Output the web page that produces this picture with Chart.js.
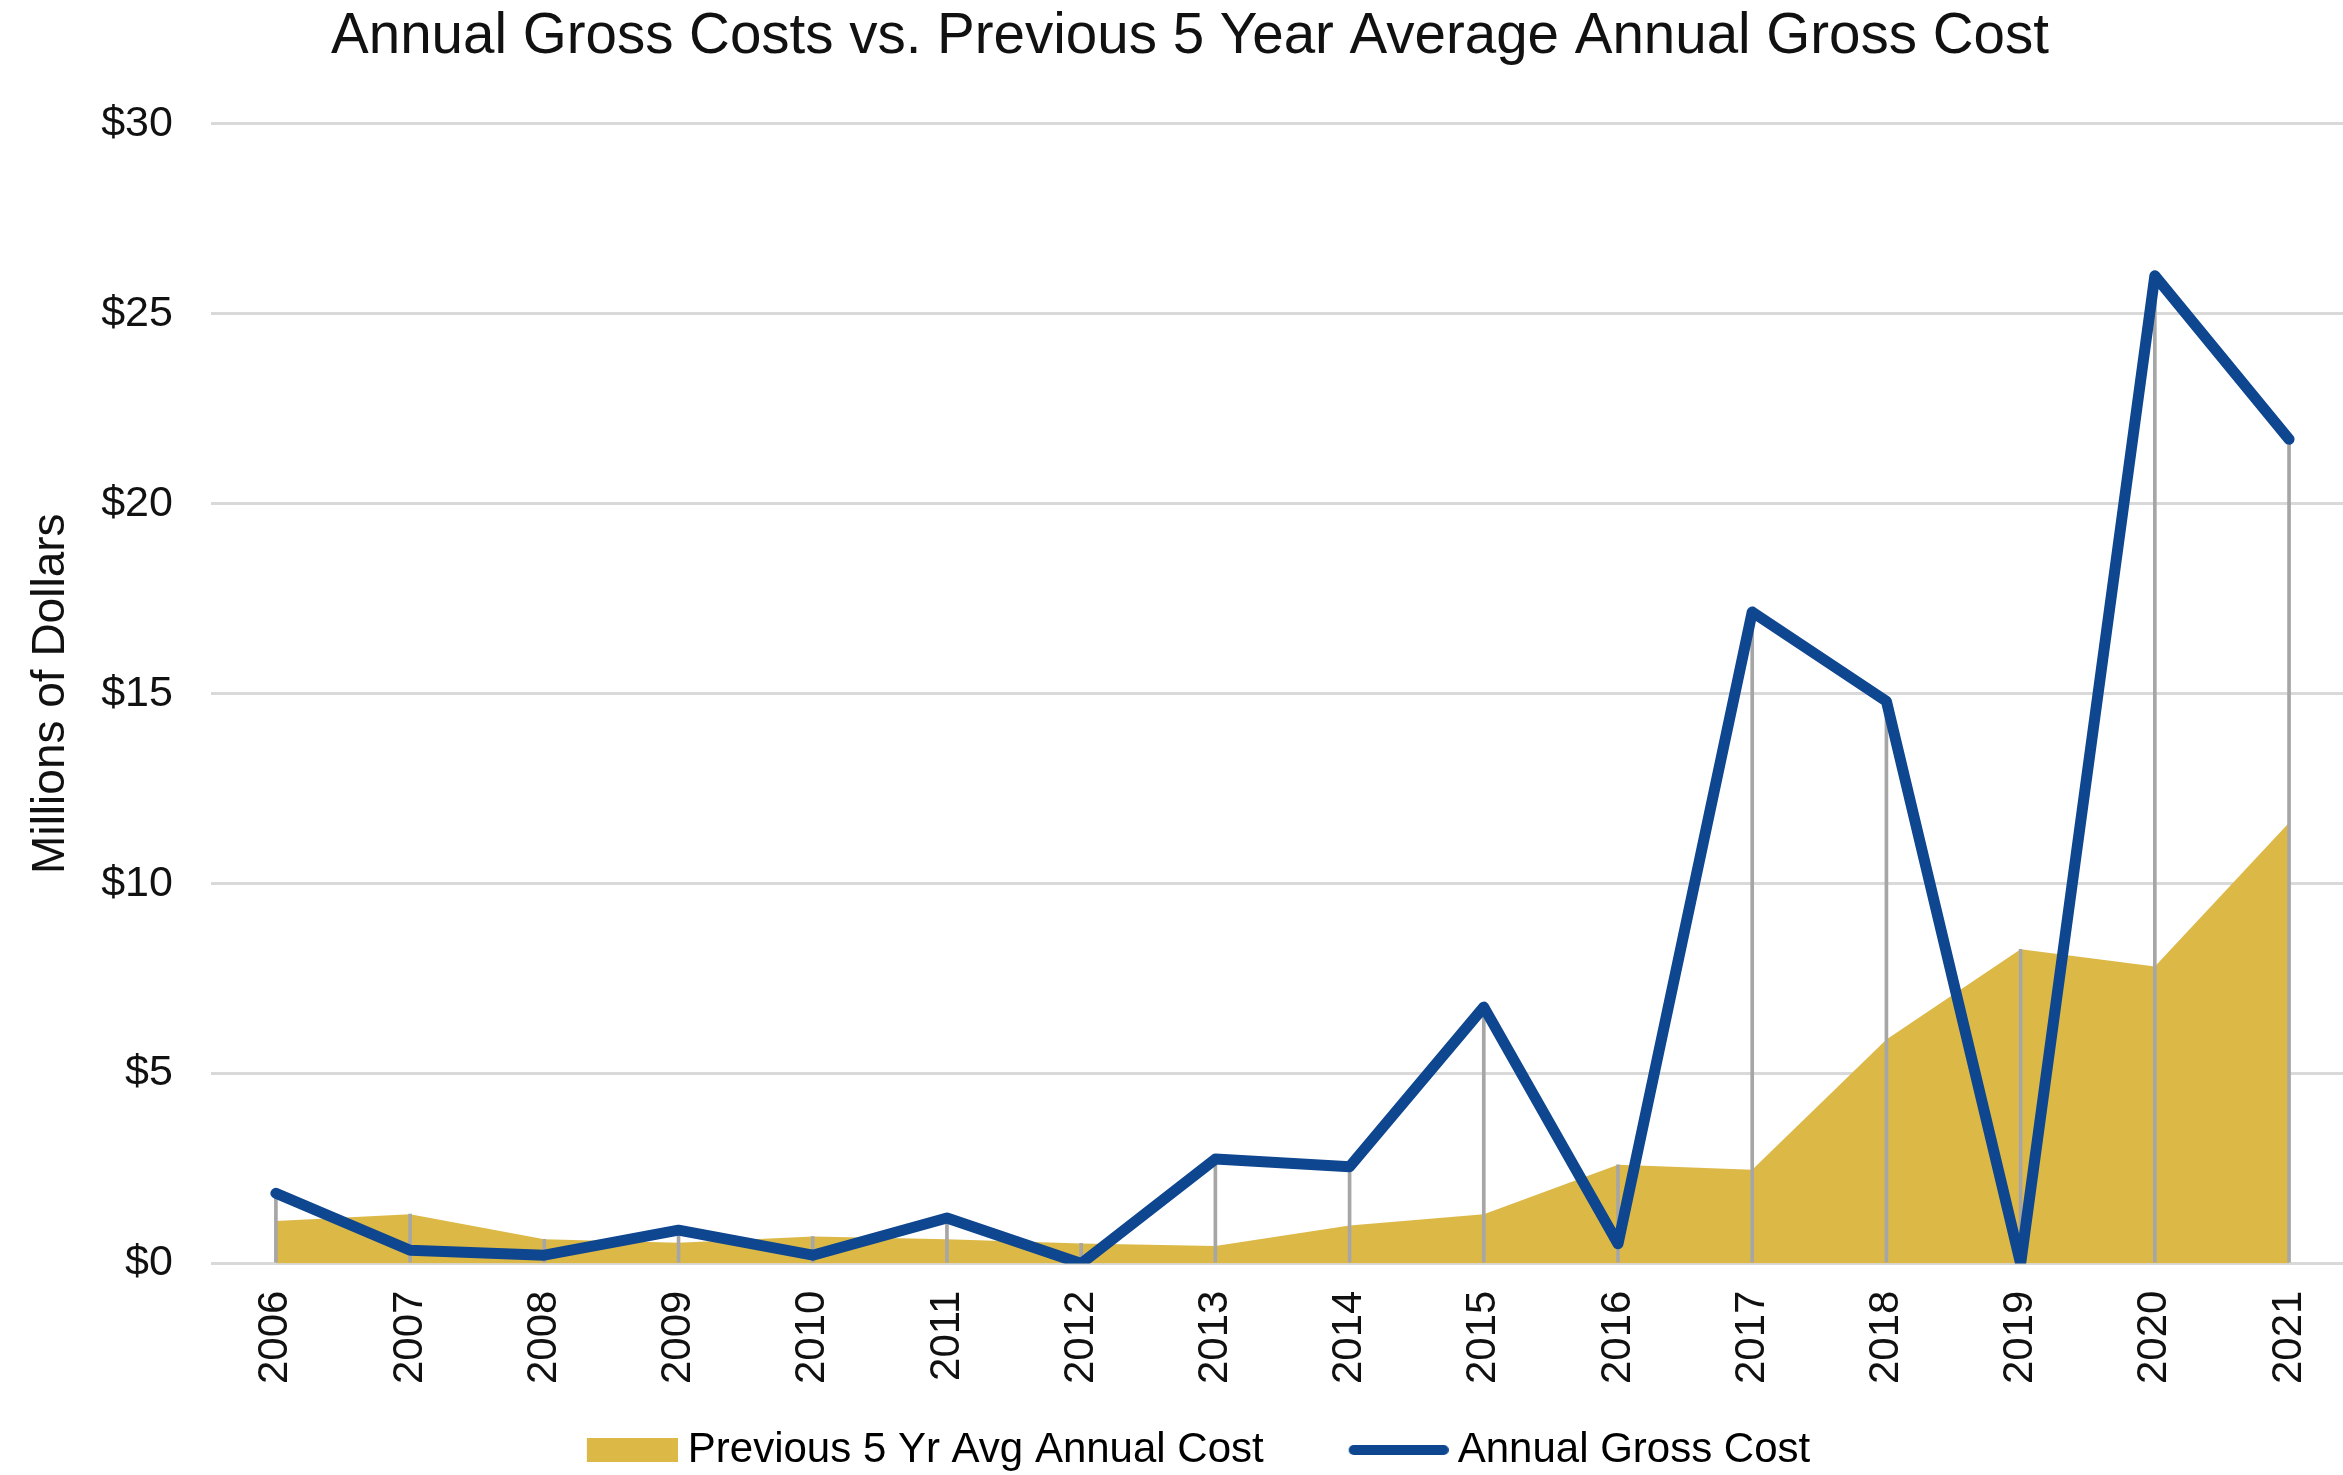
<!DOCTYPE html>
<html lang="en">
<head>
<meta charset="UTF-8">
<title>Annual Gross Costs</title>
<script src="https://cdn.jsdelivr.net/npm/chart.js"></script>
<style>
  html, body { margin: 0; padding: 0; background: #fff; }
  #wrap { width: 2343px; height: 1475px; position: relative; }
</style>
</head>
<body>
<div id="wrap"><canvas id="costChart"></canvas></div>
<script>
// data (millions of dollars)
const years = ['2006', '2007', '2008', '2009', '2010', '2011', '2012', '2013',
               '2014', '2015', '2016', '2017', '2018', '2019', '2020', '2021'];
const grossCost = [1.85, 0.35, 0.22, 0.88, 0.22, 1.2, 0.0, 2.75,
                   2.55, 6.75, 0.52, 17.15, 14.8, 0.0, 26.0, 21.7];
const prevAvgCost = [1.12, 1.3, 0.64, 0.55, 0.71, 0.64, 0.53, 0.46,
                     1.0, 1.3, 2.6, 2.47, 5.9, 8.27, 7.82, 11.6];
const yTicks = [0, 5, 10, 15, 20, 25, 30];

const GOLD = '#DCB947';
const BLUE = '#0E4690';
const FONT = 'Liberation Sans, Arial, sans-serif';

// drop lines go from the axis up to the higher of the two series
const dropLines = years.map((y, i) => Math.max(grossCost[i], prevAvgCost[i]));

// legend swatches (drawn slightly past the box so the text sits closer, like Excel)
const SWATCH_W = 129;
function goldSwatch() {
  const c = document.createElement('canvas');
  c.width = SWATCH_W + 22; c.height = 24;
  const g = c.getContext('2d');
  g.fillStyle = GOLD;
  g.fillRect(c.width - 91, 0, 91, 24);
  return c;
}
function blueSwatch() {
  const c = document.createElement('canvas');
  c.width = SWATCH_W + 24; c.height = 14;
  const g = c.getContext('2d');
  g.strokeStyle = BLUE;
  g.lineWidth = 10;
  g.lineCap = 'round';
  g.beginPath();
  g.moveTo(c.width - 95, 7);
  g.lineTo(c.width - 5, 7);
  g.stroke();
  return c;
}
const goldIcon = goldSwatch();
const blueIcon = blueSwatch();

// nudge the legend a little to the left, where Excel put it
const legendShift = {
  id: 'legendShift',
  afterLayout(chart) {
    if (chart.legend) {
      chart.legend.left -= 16;
      chart.legend.right -= 16;
    }
  }
};

const ctx = document.getElementById('costChart').getContext('2d');
new Chart(ctx, {
  data: {
    labels: years,
    datasets: [
      {
        type: 'line',
        label: 'Annual Gross Cost',
        data: grossCost,
        borderColor: BLUE,
        borderWidth: 11,
        borderJoinStyle: 'round',
        borderCapStyle: 'round',
        pointRadius: 0,
        fill: false,
        tension: 0,
        order: 1
      },
      {
        type: 'bar',
        label: 'drop',
        data: dropLines,
        backgroundColor: '#A6A6A6',
        barThickness: 3,
        order: 2
      },
      {
        type: 'line',
        label: 'Previous 5 Yr Avg Annual Cost',
        data: prevAvgCost,
        backgroundColor: GOLD,
        borderColor: GOLD,
        borderWidth: 0,
        pointRadius: 0,
        fill: 'origin',
        tension: 0,
        order: 3
      }
    ]
  },
  plugins: [legendShift],
  options: {
    responsive: true,
    maintainAspectRatio: false,
    devicePixelRatio: 1,
    animation: false,
    layout: { padding: { left: 24, right: -13, top: 0, bottom: -6 } },
    plugins: {
      tooltip: { enabled: false },
      title: {
        display: true,
        text: 'Annual Gross Costs vs. Previous 5 Year Average Annual Gross Cost',
        color: '#111',
        font: { family: FONT, size: 56.5, weight: 'normal' },
        padding: { top: 4, bottom: 52 }
      },
      legend: {
        position: 'bottom',
        labels: {
          color: '#111',
          font: { family: FONT, size: 42 },
          usePointStyle: true,
          pointStyleWidth: SWATCH_W,
          boxHeight: 24,
          padding: 44,
          generateLabels: function () {
            return [
              { text: 'Previous 5 Yr Avg Annual Cost', fillStyle: GOLD, strokeStyle: GOLD,
                lineWidth: 0, pointStyle: goldIcon, hidden: false, datasetIndex: 2 },
              { text: 'Annual Gross Cost', fillStyle: BLUE, strokeStyle: BLUE,
                lineWidth: 0, pointStyle: blueIcon, hidden: false, datasetIndex: 0 }
            ];
          }
        }
      }
    },
    scales: {
      x: {
        type: 'linear',
        offset: false,
        // Excel leaves a bit less room after the last year than before the first
        min: 2005.516,
        max: 2021.402,
        afterBuildTicks: axis => { axis.ticks = years.map(y => ({ value: +y })); },
        grid: { display: false, drawTicks: false },
        border: { display: false },
        ticks: {
          color: '#111',
          font: { family: FONT, size: 42 },
          minRotation: 90,
          maxRotation: 90,
          padding: 27,
          autoSkip: false,
          callback: v => String(v)
        },
        // drop the empty space chart.js leaves under and beside the rotated years
        afterFit: axis => {
          axis.height -= 26;
          axis.paddingLeft = 0;
          axis.paddingRight = 0;
        }
      },
      y: {
        min: 0,
        max: 30,
        afterBuildTicks: axis => { axis.ticks = yTicks.map(v => ({ value: v })); },
        grid: { color: '#D9D9D9', lineWidth: 3, drawTicks: false },
        border: { display: false },
        ticks: {
          color: '#111',
          font: { family: FONT, size: 43 },
          padding: 38,
          callback: v => '$' + v
        },
        title: {
          display: true,
          text: 'Millions of Dollars',
          color: '#111',
          font: { family: FONT, size: 46 },
          padding: { top: 0, bottom: -16 }
        }
      }
    }
  }
});
</script>
</body>
</html>
